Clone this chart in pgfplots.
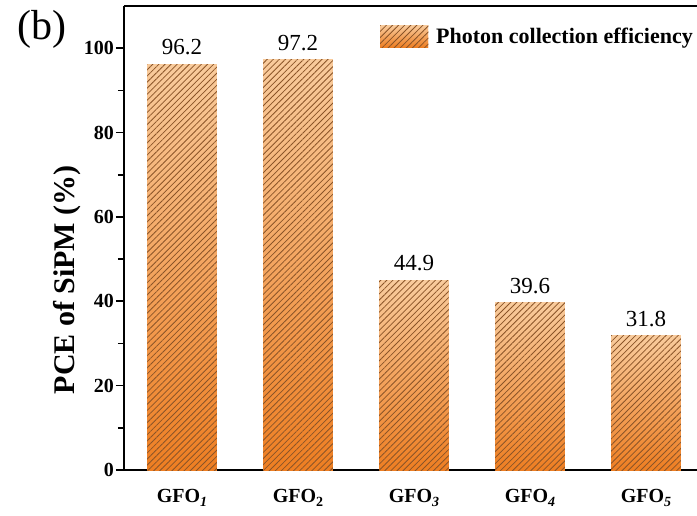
\documentclass[border=0pt]{standalone}
\usepackage{pgfplots}
\pgfplotsset{compat=1.18}
\usetikzlibrary{patterns.meta}
\usepackage{fontspec}
\setmainfont{Liberation Serif}

\definecolor{barlight}{HTML}{F9CB9C}
\definecolor{bardark}{HTML}{EE7E22}
\definecolor{hatch}{HTML}{8A5428}

\newcommand{\sub}[1]{\raisebox{-0.45ex}{\fontsize{14}{14}\selectfont #1}}

\tikzset{
  hatchbar/.style={
    draw=none,
    preaction={top color=barlight, bottom color=bardark},
    pattern={Lines[angle=45,distance=4.3pt,line width=0.8pt]}, pattern color=hatch
  }
}

\begin{document}
\begin{tikzpicture}
\begin{axis}[
  at={(0,0)}, anchor=south west,
  scale only axis,
  width=573pt, height=464pt,
  xmin=0.5, xmax=5.44,
  ymin=0, ymax=110,
  axis y line*=left, axis x line*=bottom,
  axis line style={line width=2.2pt},
  xtick={1,2,3,4,5},
  xticklabels={GFO\sub{\textit{1}}, GFO\sub{2}, GFO\sub{\textit{3}}, GFO\sub{\textit{4}}, GFO\sub{\textit{5}}},
  x tick style={draw=none},
  xticklabel style={font=\bfseries\fontsize{20}{20}\selectfont, yshift=-8pt},
  ytick={0,20,40,60,80,100},
  minor y tick num=1,
  tick align=outside,
  y tick style={line width=1.6pt, black},
  major tick length=8pt, minor tick length=6pt,
  yticklabel style={font=\bfseries\fontsize{20}{20}\selectfont, inner sep=2pt},
  /pgf/number format/assume math mode=true,
  ylabel={\bfseries PCE of SiPM (\%)},
  ylabel style={font=\fontsize{30}{30}\selectfont, at={(axis description cs:-0.1,0.41)}, anchor=center, rotate=0},
  bar width=0.6,
  nodes near coords,
  nodes near coords style={font=\fontsize{23}{23}\selectfont, anchor=south, yshift=6pt,
    /pgf/number format/.cd, fixed, precision=1, fixed zerofill, assume math mode=true},
  legend style={at={(rel axis cs:0.4468,0.959)}, anchor=north west, draw=none, fill=none,
    inner sep=0pt, font=\bfseries\fontsize{22}{22}\selectfont, cells={anchor=west},
    /tikz/every odd column/.append style={column sep=6pt}},
  legend image code/.code={\path[hatchbar] (0pt,-11pt) rectangle (48pt,11pt);},
]
% one plot per bar so that each bar carries its own gradient
\addplot[ybar, hatchbar] coordinates {(1,96.2)};
\addlegendentry{Photon collection efficiency}
\addplot[ybar, hatchbar, forget plot] coordinates {(2,97.2)};
\addplot[ybar, hatchbar, forget plot] coordinates {(3,44.9)};
\addplot[ybar, hatchbar, forget plot] coordinates {(4,39.6)};
\addplot[ybar, hatchbar, forget plot] coordinates {(5,31.8)};
\draw[line width=2.2pt] (rel axis cs:0,1) -- (rel axis cs:1,1);
\end{axis}
\node[anchor=west, font=\fontsize{42}{42}\selectfont] at (-110pt,441pt) {(b)};
\pgfresetboundingbox
\path (-124pt,-45pt) rectangle (573pt,470pt);
\end{tikzpicture}
\end{document}
